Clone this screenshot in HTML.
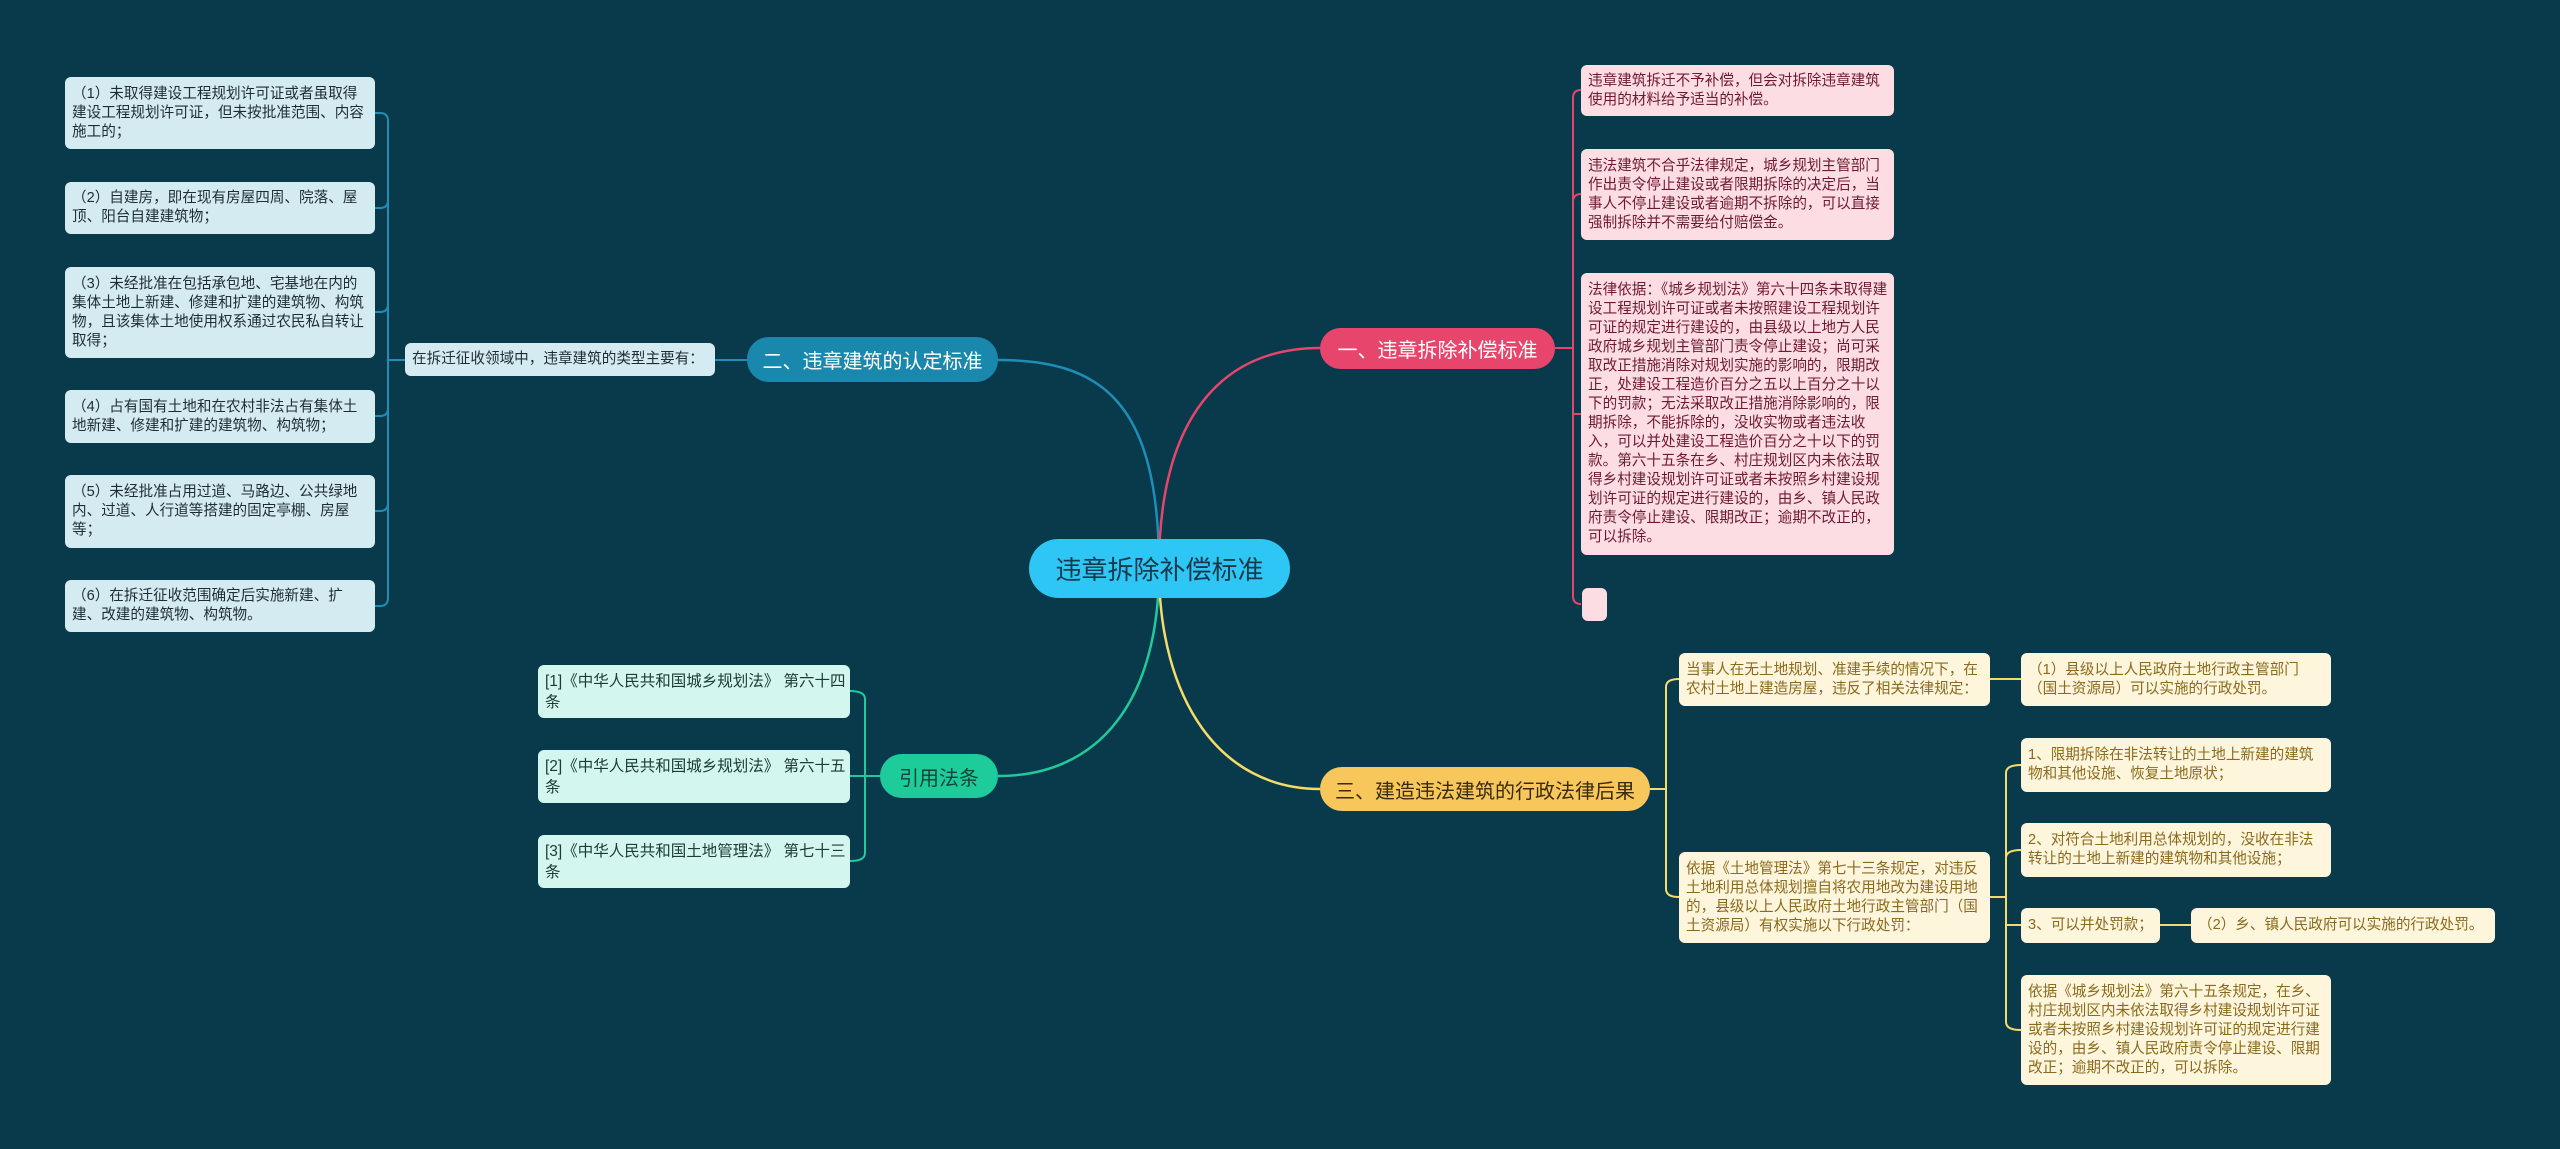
<!DOCTYPE html>
<html><head><meta charset="utf-8"><style>
body{margin:0;width:2560px;height:1149px;background:#083a4c;overflow:hidden;position:relative;font-family:"Liberation Sans","Noto Sans CJK SC",sans-serif}
.b{position:absolute;box-sizing:border-box;border-radius:6px;padding:4px 6px 4px 7px;font-size:14.6px;line-height:19px;display:flex;align-items:center;word-break:break-all}
.lb{background:#d5ebf2;color:#1d2d33}
.pk{background:#fddde4;color:#6e1a2e}
.yl{background:#fdf5dc;color:#8a6a1c}
.gr{background:#d3f6ee;color:#1d3a33;font-size:15.5px;line-height:21px;white-space:nowrap}
.m{position:absolute;box-sizing:border-box;border-radius:22px;display:flex;align-items:center;justify-content:center;font-size:20px}
svg{position:absolute;left:0;top:0}
</style></head><body>
<svg width="2560" height="1149" fill="none" stroke-width="2.5">
<path d="M1159 568 C1159 400 1100 360 998 360" stroke="#1f8db5"/>
<path d="M1159 568 C1159 420 1220 348 1320 348" stroke="#e8456c"/>
<path d="M1159 568 C1159 700 1100 776 998 776" stroke="#22c99b"/>
<path d="M1159 568 C1159 700 1220 789 1320 789" stroke="#f5dc6a"/>
<g stroke="#1f8db5" stroke-width="2">
<path d="M747 360 H715"/>
<path d="M405 360 H388"/>
<path d="M388 121 V598 M388 121 Q388 113 380 113 H375 M388 200 Q388 208 380 208 H375 M388 304 Q388 312 380 312 H375 M388 408 Q388 416 380 416 H375 M388 503 Q388 511 380 511 H375 M388 598 Q388 606 380 606 H375"/>
</g>
<g stroke="#e8456c" stroke-width="2">
<path d="M1555 348 H1573 M1573 98 V596 M1573 98 Q1573 90 1581 90 M1573 202 Q1573 194 1581 194 M1573 414 H1581 M1573 596 Q1573 604 1581 604"/>
</g>
<g stroke="#f5dc6a" stroke-width="2">
<path d="M1650 789 H1666 M1666 687 V889 M1666 687 Q1666 679 1679 679 M1666 889 Q1666 897 1679 897"/>
<path d="M1990 679 H2021"/>
<path d="M1990 897 H2006 M2006 773 V1022 M2006 773 Q2006 765 2021 765 M2006 858 Q2006 850 2021 850 M2006 925 H2021 M2006 1022 Q2006 1030 2021 1030"/>
<path d="M2160 925 H2191"/>
</g>
<g stroke="#22c99b" stroke-width="2">
<path d="M880 776 H865 M865 699 V853 M865 699 Q865 691 850 691 M865 776 H850 M865 853 Q865 861 850 861"/>
</g>
</svg>

<div class="m" style="left:1029px;top:539px;width:261px;height:59px;border-radius:30px;background:#2ec6f5;color:#173a4a;font-size:26px">违章拆除补偿标准</div>
<div class="m" style="left:1320px;top:328px;width:235px;height:41px;background:#e8456c;color:#fff">一、违章拆除补偿标准</div>
<div class="m" style="left:747px;top:337px;width:251px;height:45px;background:#1a87ad;color:#fff">二、违章建筑的认定标准</div>
<div class="m" style="left:880px;top:754px;width:118px;height:44px;background:#1ecb9a;color:#144436">引用法条</div>
<div class="m" style="left:1320px;top:767px;width:330px;height:44px;background:#f7c75c;color:#3a2a08">三、建造违法建筑的行政法律后果</div>

<div class="b lb" style="left:65px;top:77px;width:310px;height:72px">（1）未取得建设工程规划许可证或者虽取得建设工程规划许可证，但未按批准范围、内容施工的；</div>
<div class="b lb" style="left:65px;top:182px;width:310px;height:52px">（2）自建房，即在现有房屋四周、院落、屋顶、阳台自建建筑物；</div>
<div class="b lb" style="left:65px;top:267px;width:310px;height:91px">（3）未经批准在包括承包地、宅基地在内的集体土地上新建、修建和扩建的建筑物、构筑物，且该集体土地使用权系通过农民私自转让取得；</div>
<div class="b lb" style="left:65px;top:390px;width:310px;height:53px">（4）占有国有土地和在农村非法占有集体土地新建、修建和扩建的建筑物、构筑物；</div>
<div class="b lb" style="left:65px;top:475px;width:310px;height:73px">（5）未经批准占用过道、马路边、公共绿地内、过道、人行道等搭建的固定亭棚、房屋等；</div>
<div class="b lb" style="left:65px;top:580px;width:310px;height:52px">（6）在拆迁征收范围确定后实施新建、扩建、改建的建筑物、构筑物。</div>
<div class="b lb" style="left:405px;top:343px;width:310px;height:33px">在拆迁征收领域中，违章建筑的类型主要有：</div>

<div class="b pk" style="left:1581px;top:65px;width:313px;height:51px">违章建筑拆迁不予补偿，但会对拆除违章建筑使用的材料给予适当的补偿。</div>
<div class="b pk" style="left:1581px;top:149px;width:313px;height:91px">违法建筑不合乎法律规定，城乡规划主管部门作出责令停止建设或者限期拆除的决定后，当事人不停止建设或者逾期不拆除的，可以直接强制拆除并不需要给付赔偿金。</div>
<div class="b pk" style="left:1581px;top:273px;width:313px;height:282px">法律依据：《城乡规划法》第六十四条未取得建设工程规划许可证或者未按照建设工程规划许可证的规定进行建设的，由县级以上地方人民政府城乡规划主管部门责令停止建设；尚可采取改正措施消除对规划实施的影响的，限期改正，处建设工程造价百分之五以上百分之十以下的罚款；无法采取改正措施消除影响的，限期拆除，不能拆除的，没收实物或者违法收入，可以并处建设工程造价百分之十以下的罚款。第六十五条在乡、村庄规划区内未依法取得乡村建设规划许可证或者未按照乡村建设规划许可证的规定进行建设的，由乡、镇人民政府责令停止建设、限期改正；逾期不改正的，可以拆除。</div>
<div class="b pk" style="left:1582px;top:588px;width:25px;height:33px"></div>

<div class="b gr" style="left:538px;top:665px;width:312px;height:53px"><span>[1]《中华人民共和国城乡规划法》 第六十四<br>条</span></div>
<div class="b gr" style="left:538px;top:750px;width:312px;height:53px"><span>[2]《中华人民共和国城乡规划法》 第六十五<br>条</span></div>
<div class="b gr" style="left:538px;top:835px;width:312px;height:53px"><span>[3]《中华人民共和国土地管理法》 第七十三<br>条</span></div>

<div class="b yl" style="left:1679px;top:653px;width:311px;height:53px">当事人在无土地规划、准建手续的情况下，在农村土地上建造房屋，违反了相关法律规定：</div>
<div class="b yl" style="left:2021px;top:653px;width:310px;height:53px">（1）县级以上人民政府土地行政主管部门（国土资源局）可以实施的行政处罚。</div>
<div class="b yl" style="left:1679px;top:852px;width:311px;height:91px">依据《土地管理法》第七十三条规定，对违反土地利用总体规划擅自将农用地改为建设用地的，县级以上人民政府土地行政主管部门（国土资源局）有权实施以下行政处罚：</div>
<div class="b yl" style="left:2021px;top:738px;width:310px;height:54px">1、限期拆除在非法转让的土地上新建的建筑物和其他设施、恢复土地原状；</div>
<div class="b yl" style="left:2021px;top:823px;width:310px;height:54px">2、对符合土地利用总体规划的，没收在非法转让的土地上新建的建筑物和其他设施；</div>
<div class="b yl" style="left:2021px;top:908px;width:139px;height:35px">3、可以并处罚款；</div>
<div class="b yl" style="left:2191px;top:908px;width:304px;height:35px">（2）乡、镇人民政府可以实施的行政处罚。</div>
<div class="b yl" style="left:2021px;top:975px;width:310px;height:110px">依据《城乡规划法》第六十五条规定，在乡、村庄规划区内未依法取得乡村建设规划许可证或者未按照乡村建设规划许可证的规定进行建设的，由乡、镇人民政府责令停止建设、限期改正；逾期不改正的，可以拆除。</div>
</body></html>
